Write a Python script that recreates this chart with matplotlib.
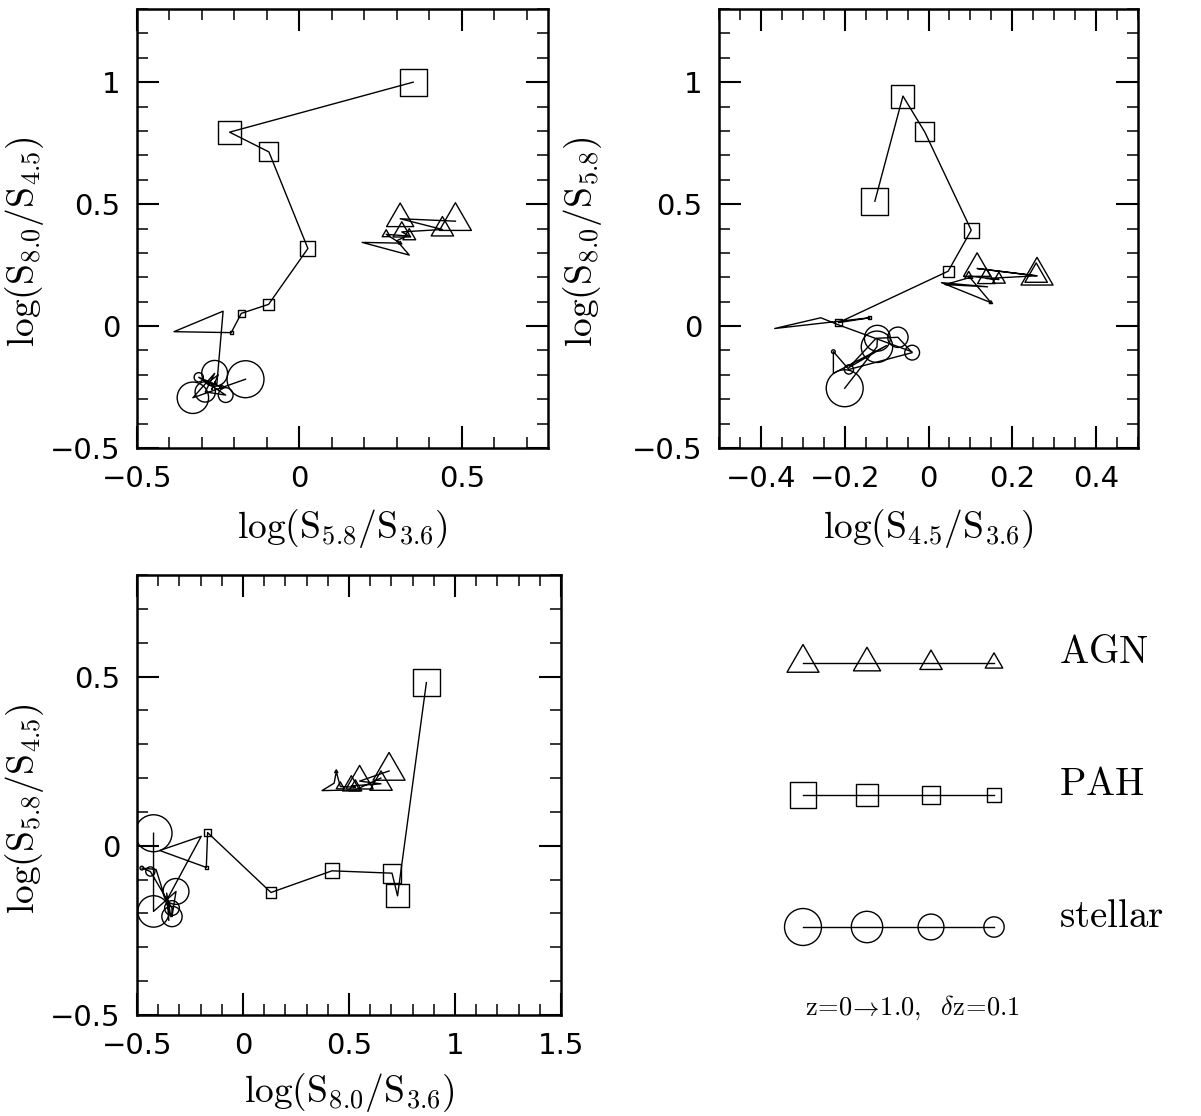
import numpy as np
import matplotlib
matplotlib.use("Agg")
import matplotlib.pyplot as plt
from matplotlib.path import Path
from matplotlib.ticker import MultipleLocator, FixedLocator, FuncFormatter

plt.rcParams['mathtext.fontset'] = 'cm'
plt.rcParams['font.family'] = ['DejaVu Sans']

# redshift steps of each template track
z = np.round(np.arange(0, 1.01, 0.1), 1)

# Panel 1: log(S5.8/S3.6) vs log(S8.0/S4.5)
agn1_x = [0.48, 0.31, 0.44, 0.315, 0.338, 0.267, 0.31, 0.193, 0.338, 0.30, 0.33]
agn1_y = [0.43, 0.44, 0.396, 0.386, 0.369, 0.376, 0.34, 0.343, 0.291, 0.35, 0.37]
pah1_x = [0.35, -0.215, -0.094, 0.026, -0.095, -0.179, -0.21, -0.386, -0.235, -0.254, -0.27]
pah1_y = [1.00, 0.795, 0.714, 0.318, 0.089, 0.052, -0.027, -0.023, 0.061, -0.235, -0.24]
ste1_x = [-0.166, -0.328, -0.261, -0.29, -0.227, -0.31, -0.24, -0.28, -0.25, -0.27, -0.26]
ste1_y = [-0.218, -0.294, -0.194, -0.27, -0.283, -0.21, -0.25, -0.23, -0.20, -0.26, -0.23]

# Panel 2: log(S4.5/S3.6) vs log(S8.0/S5.8)
agn2_x = [0.259, 0.116, 0.257, 0.138, 0.168, 0.096, 0.149, 0.031, 0.141, 0.04, 0.10]
agn2_y = [0.206, 0.236, 0.206, 0.195, 0.191, 0.205, 0.096, 0.178, 0.161, 0.17, 0.20]
pah2_x = [-0.128, -0.061, -0.009, 0.102, 0.047, -0.215, -0.14, -0.367, -0.257, -0.215, -0.04]
pah2_y = [0.512, 0.943, 0.796, 0.393, 0.225, 0.014, 0.034, -0.01, 0.034, 0.005, -0.105]
ste2_x = [-0.2, -0.123, -0.122, -0.073, -0.039, -0.19, -0.227, -0.227, -0.10, -0.19, -0.125]
ste2_y = [-0.255, -0.085, -0.05, -0.046, -0.109, -0.178, -0.105, -0.194, -0.08, -0.17, -0.05]

# Panel 3: log(S8.0/S3.6) vs log(S5.8/S4.5)
agn3_x = [0.689, 0.55, 0.651, 0.511, 0.53, 0.459, 0.44, 0.43, 0.373, 0.53, 0.65]
agn3_y = [0.221, 0.191, 0.183, 0.177, 0.173, 0.175, 0.219, 0.185, 0.163, 0.165, 0.20]
pah3_x = [0.865, 0.729, 0.703, 0.42, 0.132, -0.167, -0.173, -0.393, -0.197, -0.359, -0.35]
pah3_y = [0.482, -0.148, -0.081, -0.074, -0.138, 0.039, -0.064, -0.014, 0.028, -0.16, -0.18]
ste3_x = [-0.422, -0.422, -0.316, -0.335, -0.335, -0.437, -0.477, -0.41, -0.34, -0.36, -0.35]
ste3_y = [0.037, -0.194, -0.135, -0.209, -0.184, -0.076, -0.066, -0.07, -0.21, -0.14, -0.22]

legend_names = ['AGN', 'PAH', 'stellar']

# open equilateral triangle centred on its centroid
tri = Path([(0, 1), (-0.866, -0.5), (0.866, -0.5), (0, 1)],
           [Path.MOVETO, Path.LINETO, Path.LINETO, Path.CLOSEPOLY])

# marker style and base size (points) for each template
styles = {
    'AGN': dict(marker=tri, base=26.6),
    'PAH': dict(marker='s', base=19.4),
    'stellar': dict(marker='o', base=26.6),
}


def marker_sizes(base, zz):
    return base * np.clip(1.0 - 1.5 * np.asarray(zz), 0, None)


def draw_track(ax, x, y, kind):
    st = styles[kind]
    ax.plot(x, y, '-', color='k', lw=1.0, zorder=2)
    ms = marker_sizes(st['base'], z)
    ax.scatter(x, y, s=ms ** 2, marker=st['marker'], facecolors='none',
               edgecolors='k', linewidths=1.0, zorder=3)


def fmt(v, pos):
    s = f'{v:g}'
    return s.replace('-', '\u2212')


def style_axes(ax, xlim, ylim, xmaj, xmin, ymaj, ymin):
    ax.set_xlim(*xlim)
    ax.set_ylim(*ylim)
    ax.xaxis.set_major_locator(FixedLocator(xmaj))
    ax.xaxis.set_minor_locator(MultipleLocator(xmin))
    ax.yaxis.set_major_locator(FixedLocator(ymaj))
    ax.yaxis.set_minor_locator(MultipleLocator(ymin))
    ax.xaxis.set_major_formatter(FuncFormatter(fmt))
    ax.yaxis.set_major_formatter(FuncFormatter(fmt))
    ax.tick_params(which='both', direction='in', top=True, right=True,
                   labelsize=21, pad=12)
    ax.tick_params(which='major', length=16, width=1.5)
    ax.tick_params(which='minor', length=8, width=1.1)
    for sp in ax.spines.values():
        sp.set_linewidth(1.8)


W, H = 1201, 1116
fig = plt.figure(figsize=(W / 100, H / 100), dpi=100)


def px_axes(x0, y0, x1, y1):
    return fig.add_axes([x0 / W, 1 - y1 / H, (x1 - x0) / W, (y1 - y0) / H])


lab = dict(fontsize=27)

ax1 = px_axes(137, 9, 548, 448)
style_axes(ax1, (-0.5, 0.765), (-0.5, 1.3), [-0.5, 0, 0.5], 0.1,
           [-0.5, 0, 0.5, 1.0], 0.1)
draw_track(ax1, agn1_x, agn1_y, 'AGN')
draw_track(ax1, pah1_x, pah1_y, 'PAH')
draw_track(ax1, ste1_x, ste1_y, 'stellar')
ax1.set_xlabel(r'$\log(\mathrm{S}_{5.8}/\mathrm{S}_{3.6})$', labelpad=10, **lab)
ax1.set_ylabel(r'$\log(\mathrm{S}_{8.0}/\mathrm{S}_{4.5})$', **lab)
ax1.yaxis.set_label_coords(-0.222, 0.47)

ax2 = px_axes(719, 9, 1138, 448)
style_axes(ax2, (-0.5, 0.5), (-0.5, 1.3), [-0.4, -0.2, 0, 0.2, 0.4], 0.05,
           [-0.5, 0, 0.5, 1.0], 0.1)
draw_track(ax2, agn2_x, agn2_y, 'AGN')
draw_track(ax2, pah2_x, pah2_y, 'PAH')
draw_track(ax2, ste2_x, ste2_y, 'stellar')
ax2.set_xlabel(r'$\log(\mathrm{S}_{4.5}/\mathrm{S}_{3.6})$', labelpad=10, **lab)
ax2.set_ylabel(r'$\log(\mathrm{S}_{8.0}/\mathrm{S}_{5.8})$', **lab)
ax2.yaxis.set_label_coords(-0.275, 0.47)

ax3 = px_axes(137, 575, 561, 1015)
style_axes(ax3, (-0.5, 1.5), (-0.5, 0.8), [-0.5, 0, 0.5, 1.0, 1.5], 0.1,
           [-0.5, 0, 0.5], 0.1)
draw_track(ax3, agn3_x, agn3_y, 'AGN')
draw_track(ax3, pah3_x, pah3_y, 'PAH')
draw_track(ax3, ste3_x, ste3_y, 'stellar')
ax3.set_xlabel(r'$\log(\mathrm{S}_{8.0}/\mathrm{S}_{3.6})$', labelpad=8, **lab)
ax3.set_ylabel(r'$\log(\mathrm{S}_{5.8}/\mathrm{S}_{4.5})$', **lab)
ax3.yaxis.set_label_coords(-0.215, 0.47)

# key: first four redshift steps of each template
axk = fig.add_axes([0, 0, 1, 1])
axk.set_xlim(0, W)
axk.set_ylim(H, 0)
axk.axis('off')
key_x = np.array([803, 867, 931, 994])
key_y = [663, 795, 927]
for name, ky in zip(legend_names, key_y):
    st = styles[name]
    ms = marker_sizes(st['base'], z[:4])
    axk.plot(key_x, [ky] * 4, '-', color='k', lw=1.0)
    axk.scatter(key_x, [ky] * 4, s=ms ** 2, marker=st['marker'],
                facecolors='none', edgecolors='k', linewidths=1.0)
    axk.text(1059, ky, r'$\mathrm{%s}$' % name, fontsize=28,
             ha='left', va='baseline')
axk.text(805, 1015, r'$\mathrm{z\!=\!0\!\rightarrow\!1.0,\ \ \delta z\!=\!0.1}$',
         fontsize=19, ha='left', va='baseline')

fig.savefig('out.png', dpi=100)
